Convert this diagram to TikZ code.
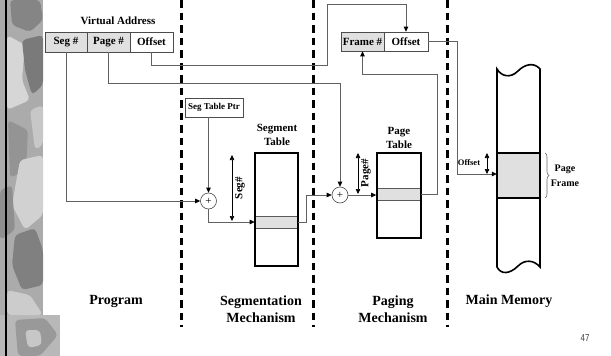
\documentclass[tikz,border=0pt]{standalone}
\usepackage{fontspec}
\setmainfont{Liberation Serif}
\newfontfamily\numfont{Liberation Sans}
\usetikzlibrary{arrows.meta,decorations.pathreplacing,calc}
\begin{document}
\begin{tikzpicture}[x=1pt,y=-1pt,
  tip/.tip={Triangle[length=5pt,width=4.5pt,color=black]},
  conn/.style={draw=black!62, line width=0.8pt},
  arr/.style={-tip},
  darr/.style={tip-tip, draw=black, line width=0.6pt},
  cell/.style={draw=black!70, line width=0.7pt, inner sep=0pt, minimum height=20pt, font=\bfseries\fontsize{11}{13}\selectfont},
  graycell/.style={cell, fill=black!12},
  divider/.style={line width=3pt, dash pattern=on 7.5pt off 5pt},
  tablebox/.style={draw=black, line width=1.6pt, inner sep=0pt},
  band/.style={fill=black!12, draw=black!65, line width=0.6pt, inner sep=0pt},
  plus/.style={circle, draw=black!70, fill=white, line width=0.6pt, minimum size=16pt, inner sep=0pt, font=\fontsize{11}{11}\selectfont},
  heading/.style={font=\bfseries\fontsize{11}{14}\selectfont, align=center},
  small/.style={font=\bfseries\fontsize{9}{11}\selectfont},
  section/.style={font=\bfseries\fontsize{14}{17}\selectfont, align=center},
  memline/.style={line width=1.6pt},
  blob/.style={rounded corners=4pt},
]
\useasboundingbox (0,0) rectangle (611,356);
\fill[white] (0,0) rectangle (611,356);

% ---- textured left strip ----
\fill[black!33] (0,0) rectangle (43,315);
\fill[black!28] (0,315) rectangle (60,356);
\fill[black!48, blob] (10,0) -- (40,0) -- (43,20) -- (30,32) -- (12,25) -- cycle;
\fill[black!16, blob] (7,35) -- (25,45) -- (22,80) -- (30,100) -- (7,110) -- cycle;
\fill[black!52, blob] (22,40) -- (43,35) -- (43,85) -- (32,95) -- (25,70) -- cycle;
\fill[black!22, blob] (30,110) -- (43,105) -- (43,145) -- (35,150) -- cycle;
\fill[black!42, blob] (8,120) -- (28,130) -- (26,170) -- (10,178) -- cycle;
\fill[black!18, blob] (20,160) -- (43,155) -- (43,215) -- (25,230) -- (12,205) -- cycle;
\fill[black!44, blob] (0,190) -- (12,185) -- (15,230) -- (0,240) -- cycle;
\fill[black!50, blob] (15,235) -- (35,228) -- (43,250) -- (43,285) -- (22,290) -- (12,265) -- cycle;
\fill[black!20, blob] (7,290) -- (30,295) -- (43,315) -- (7,315) -- cycle;
\fill[black!40, blob] (15,320) -- (45,318) -- (58,335) -- (40,356) -- (18,356) -- cycle;
\fill[black!22, blob] (25,330) -- (40,330) -- (42,345) -- (28,348) -- cycle;
\draw[line width=2.5pt] (6,0) -- (6,356);

% ---- dashed dividers ----
\draw[divider] (181,0) -- (181,327);
\draw[divider] (313,0) -- (313,327);
\draw[divider] (447,0) -- (447,327);

% ---- virtual address ----
\node[heading] (vahead) at (118,21) {Virtual Address};
\node[graycell, minimum width=42pt] (vaseg) at (66,42) {Seg \#};
\node[graycell, minimum width=43pt] (vapage) at (108.5,42) {Page \#};
\node[cell, minimum width=43pt] (vaoff) at (151.5,42) {Offset};

% ---- physical address ----
\node[graycell, minimum width=43pt, minimum height=19pt] (ff) at (362.5,41.5) {Frame \#};
\node[cell, minimum width=44pt, minimum height=19pt] (fo) at (406,41.5) {Offset};

% ---- segmentation ----
\node[cell, small, minimum width=58pt, minimum height=19pt] (stp) at (214,107.5) {Seg Table Ptr};
\node[plus] (splus) at (208.5,201) {+};
\node[heading] (sthead) at (277,135) {Segment\\Table};
\node[band, minimum width=43pt, minimum height=12pt] (stband) at (276.5,222) {};
\node[tablebox, minimum width=43pt, minimum height=113pt] (st) at (276.5,209.5) {};
\coordinate (sgtop) at (232,155);
\coordinate (sgbot) at (232,221);
\draw[darr] (sgtop) -- (sgbot);
\node[heading, rotate=90] (sglab) at (240,188) {Seg\#};

% ---- paging ----
\node[plus] (pplus) at (340,195) {+};
\node[heading] (pthead) at (399,138) {Page\\Table};
\node[band, minimum width=44pt, minimum height=12pt] (ptband) at (399,194) {};
\node[tablebox, minimum width=44pt, minimum height=85pt] (pt) at (399,195.5) {};
\coordinate (pgtop) at (358,153);
\coordinate (pgbot) at (358,194);
\draw[darr] (pgtop) -- (pgbot);
\node[heading, rotate=90] (pglab) at (366,173) {Page\#};

% ---- main memory ----
\node[fill=black!12, inner sep=0pt, minimum width=43pt, minimum height=45pt] (pf) at (518.5,175.5) {};
\draw[memline] (497,267) -- (497,69)
  .. controls (501,76) and (510,79) .. (518,71)
  .. controls (525,64) and (534,62) .. (540,69)
  -- (540,267)
  .. controls (534,260) and (525,259) .. (518,266)
  .. controls (510,274) and (501,275) .. (497,267) -- cycle;
\draw[memline] (pf.north west) -- (pf.north east);
\draw[memline] (pf.south west) -- (pf.south east);
\draw[draw=black!60, line width=0.6pt, decorate, decoration={brace, amplitude=4pt}] (545,153) -- (545,198);
\node[font=\bfseries\fontsize{10}{15}\selectfont, align=center] (pflab) at (565,175.5) {Page\\Frame};
\coordinate (motop) at (487,153);
\coordinate (mobot) at (487,174);
\draw[darr] (motop) -- (mobot);
\node[font=\bfseries\fontsize{8.5}{10}\selectfont] (molab) at (469,163) {Offset};

% ---- connectors ----
\coordinate (b1) at (327,65);
\coordinate (b2) at (327,4);
\draw[conn, arr] (vaoff.south) |- (b1) -- (b2) -| (fo.north);
\coordinate (b3) at (340,83);
\draw[conn, arr] (vapage.south) |- (b3) -- (pplus.north);
\draw[conn, arr] (vaseg.south) |- (splus.west);
\draw[conn, arr] (splus.north |- stp.south) -- (splus.north);
\draw[conn, arr] (splus.south) |- (stband.west);
\coordinate (b4) at (306,222);
\draw[conn, arr] (stband.east) -- (b4) |- (pplus.west);
\draw[conn, arr] (pplus.east) -- (pplus.east -| pt.west);
\coordinate (b5) at (437,74);
\draw[conn, arr] (ptband.east) -| (b5) -| (ff.south);
\coordinate (b6) at (457,174);
\draw[conn, arr] (fo.east) -| (b6) -- (b6 -| pf.west);

% ---- section labels ----
\node[section] (lprog) at (116,301) {Program};
\node[section] (lseg) at (261,309) {Segmentation\\Mechanism};
\node[section] (lpag) at (393,309) {Paging\\Mechanism};
\node[section] (lmem) at (509,301) {Main Memory};
\node[font=\numfont\fontsize{10}{12}\selectfont, text=black!75] (pgnum) at (585,338) {\scalebox{0.8}[1]{47}};
\end{tikzpicture}
\end{document}
